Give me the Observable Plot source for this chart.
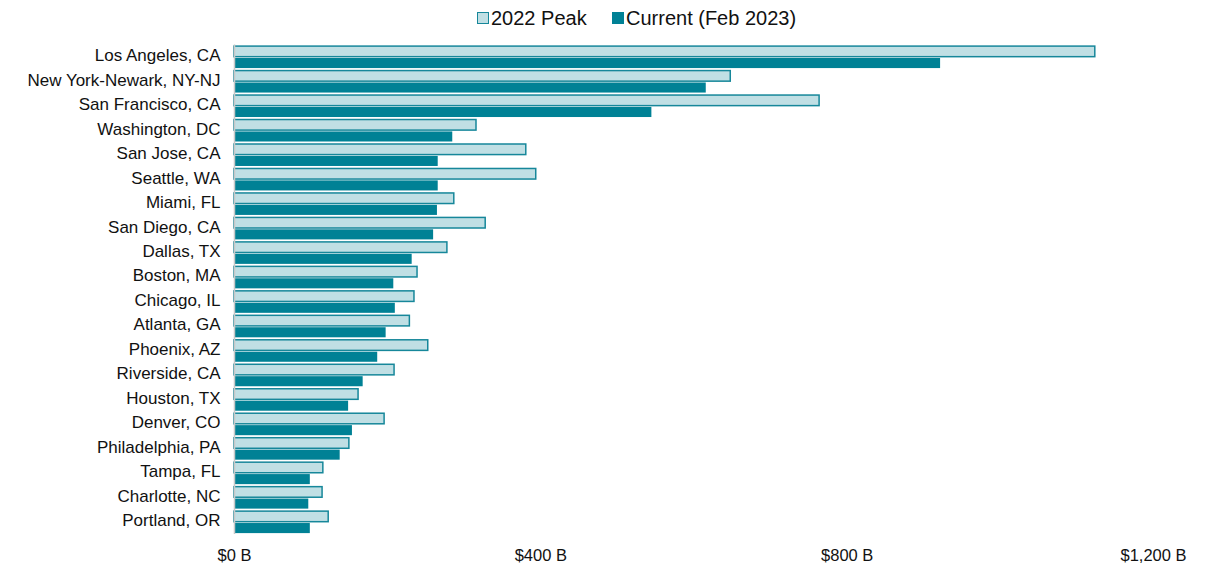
<!DOCTYPE html>
<html>
<head>
<meta charset="utf-8">
<script src="https://cdn.jsdelivr.net/npm/d3@7"></script>
<script src="https://cdn.jsdelivr.net/npm/@observablehq/plot@0.6"></script>
<style>
  html, body { margin: 0; padding: 0; background: #fff; }
  body { width: 1216px; height: 565px; overflow: hidden; font-family: "Liberation Sans", Arial, sans-serif; }
  #legend { position: relative; height: 36px; font-size: 20px; color: #111; }
  .sw { position: absolute; top: 12px; width: 12px; height: 12px; box-sizing: border-box; }
  .lt { position: absolute; top: 6px; line-height: 24px; white-space: nowrap; }
  #chart svg { display: block; }
</style>
</head>
<body>
<div id="legend"></div>
<div id="chart"></div>
<script>
const cities = ["Los Angeles, CA","New York-Newark, NY-NJ","San Francisco, CA","Washington, DC","San Jose, CA","Seattle, WA","Miami, FL","San Diego, CA","Dallas, TX","Boston, MA","Chicago, IL","Atlanta, GA","Phoenix, AZ","Riverside, CA","Houston, TX","Denver, CO","Philadelphia, PA","Tampa, FL","Charlotte, NC","Portland, OR"];
const peak2022 = [1124,648,764,316,381,394,287,328,278,239,235,229,253,209,162,196,150,116,115,123];
const currentFeb2023 = [922,616,545,285,266,266,265,260,232,208,210,198,187,168,149,154,138,99,97,99];
const seriesNames = ["2022 Peak","Current (Feb 2023)"];
const xTicks = [0,400,800,1200];

const peakFill = "#c0dfe4", peakStroke = "#16879a", curFill = "#008195";

const legend = document.getElementById("legend");
[[seriesNames[0], peakFill, peakStroke, 477], [seriesNames[1], curFill, curFill, 612]].forEach(([n, f, s, x]) => {
  const sw = document.createElement("div"); sw.className = "sw";
  sw.style.left = x + "px";
  sw.style.background = f; sw.style.border = `1.5px solid ${s}`;
  const t = document.createElement("div"); t.className = "lt"; t.textContent = n;
  t.style.left = (x + 14) + "px";
  legend.appendChild(sw); legend.appendChild(t);
});

const peakData = cities.map((c, i) => ({city: c, value: peak2022[i]}));
const curData = cities.map((c, i) => ({city: c, value: currentFeb2023[i]}));

const chart = Plot.plot({
  width: 1216,
  height: 529,
  marginTop: 8.5,
  marginBottom: 31,
  marginLeft: 234,
  marginRight: 63,
  style: {fontFamily: "Liberation Sans, Arial, sans-serif", fontSize: "16.5px", color: "#111"},
  x: {domain: [0, 1200], label: null},
  y: {domain: cities, padding: 0, round: false, label: null},
  marks: [
    Plot.barX(peakData, {x: "value", y: "city", fill: peakFill, stroke: peakStroke, strokeWidth: 1.5, insetTop: 1.6, insetBottom: 12.3}),
    Plot.barX(curData, {x: "value", y: "city", fill: curFill, insetTop: 13.5, insetBottom: 0.9}),
    Plot.ruleX([0], {stroke: "#c8c8c8", strokeWidth: 1.5}),
    Plot.axisX({ticks: xTicks, tickFormat: d => "$" + d3.format(",")(d) + " B", tickSize: 0, tickPadding: 15, fontSize: 16.5, label: null}),
    Plot.axisY({tickSize: 0, tickPadding: 14, fontSize: 17, dy: -1.5, label: null})
  ]
});
document.getElementById("chart").appendChild(chart);
</script>
</body>
</html>
